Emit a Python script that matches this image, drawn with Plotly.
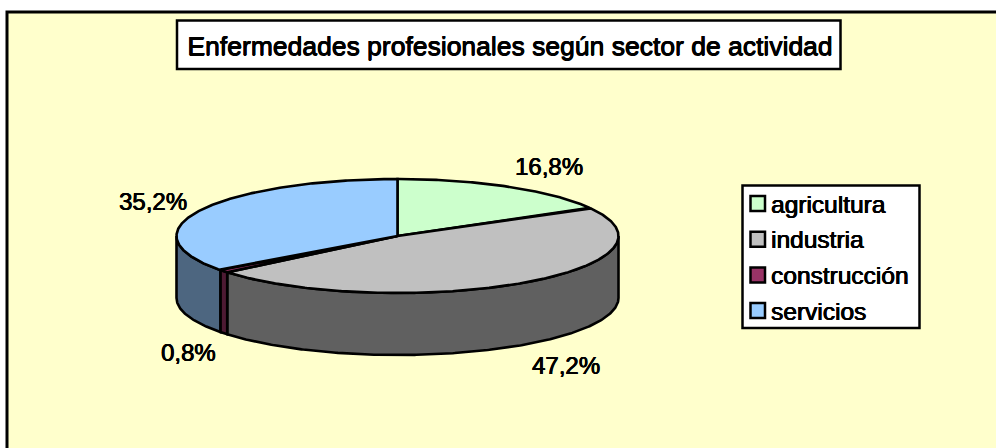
import numpy as np
import plotly.graph_objects as go

title = "Enfermedades profesionales según sector de actividad"
sectors = ["agricultura", "industria", "construcción", "servicios"]
shares = [16.8, 47.2, 0.8, 35.2]
top_colors = ["#CCFFCC", "#C0C0C0", "#993366", "#99CCFF"]
side_colors = ["#667F66", "#606060", "#4D1A33", "#4D6680"]
label_pos = [(549, 166), (566, 365), (188, 352), (153, 201)]

W, H = 996, 448
CX, CY, RX, RY, DEPTH = 397.5, 236, 221, 57, 62
FONT = "Liberation Sans"
INK = "#000000"
HEAVY = "0.5px 0 0 #000, -0.3px 0 0 #000, 0 0.3px 0 #000"


def arc(a0, a1, dy=0.0):
    t = np.radians(np.linspace(a0, a1, max(int(abs(a1 - a0) * 2), 2)))
    return CX + RX * np.sin(t), CY - RY * np.cos(t) + dy


fig = go.Figure()
edges = np.concatenate([[0], np.cumsum(shares)]) / sum(shares) * 360

# walls (only the front half of the disc shows)
for i, name in enumerate(sectors):
    a0, a1 = max(edges[i], 90), min(edges[i + 1], 270)
    if a1 <= a0:
        continue
    x1, y1 = arc(a0, a1)
    x2, y2 = arc(a1, a0, DEPTH)
    fig.add_trace(go.Scatter(
        x=np.r_[x1, x2, x1[0]], y=np.r_[y1, y2, y1[0]], mode="lines",
        fill="toself", fillcolor=side_colors[i], line=dict(color=INK, width=2.6),
        name=name, showlegend=False, hoverinfo="skip"))

# top faces
for i, name in enumerate(sectors):
    x1, y1 = arc(edges[i], edges[i + 1])
    fig.add_trace(go.Scatter(
        x=np.r_[CX, x1, CX], y=np.r_[CY, y1, CY], mode="lines",
        fill="toself", fillcolor=top_colors[i], line=dict(color=INK, width=2.6),
        name=name, showlegend=False, hoverinfo="text",
        text=f"{name}: {shares[i]:.1f}%".replace(".", ",")))

shapes = [
    dict(type="rect", x0=7, y0=12, x1=W + 20, y1=H + 20, fillcolor="#FFFFCC",
         line=dict(color=INK, width=3), layer="below"),
    dict(type="rect", x0=177, y0=20.5, x1=840.5, y1=69, fillcolor="#FFFFFF",
         line=dict(color=INK, width=2.5), layer="below"),
    dict(type="rect", x0=742.5, y0=185.5, x1=919.5, y1=328, fillcolor="#FFFFFF",
         line=dict(color=INK, width=2.5), layer="below"),
]
annotations = []
for i, name in enumerate(sectors):
    top = 196 + i * 35.7
    shapes.append(dict(type="rect", x0=750.5, x1=765, y0=top, y1=top + 15,
                       fillcolor=top_colors[i], line=dict(color=INK, width=2.5)))
    annotations.append(dict(x=769, y=top + 8, text=name, xanchor="left", yanchor="middle",
                            showarrow=False,
                            font=dict(family=FONT, size=24.5, color=INK, shadow=HEAVY)))
    lx, ly = label_pos[i]
    annotations.append(dict(x=lx, y=ly, text=f"{shares[i]:.1f}%".replace(".", ","),
                            xanchor="center", yanchor="middle", showarrow=False,
                            font=dict(family=FONT, size=24, color=INK, shadow=HEAVY)))

fig.update_layout(
    width=W, height=H, margin=dict(l=0, r=0, t=0, b=0),
    paper_bgcolor="#FFFFFF", plot_bgcolor="rgba(0,0,0,0)", showlegend=False,
    title=dict(text=title, x=510 / W, y=1 - 46 / H, xanchor="center", yanchor="middle",
               xref="paper", yref="paper",
               font=dict(family=FONT, size=26.5, color=INK, shadow=HEAVY)),
    xaxis=dict(range=[0, W], visible=False, fixedrange=True),
    yaxis=dict(range=[H, 0], visible=False, fixedrange=True),
    shapes=shapes, annotations=annotations,
)
fig.write_html("out.html", config={"displayModeBar": False},
               post_script="document.body.style.margin='0';document.body.style.overflow='hidden';")
